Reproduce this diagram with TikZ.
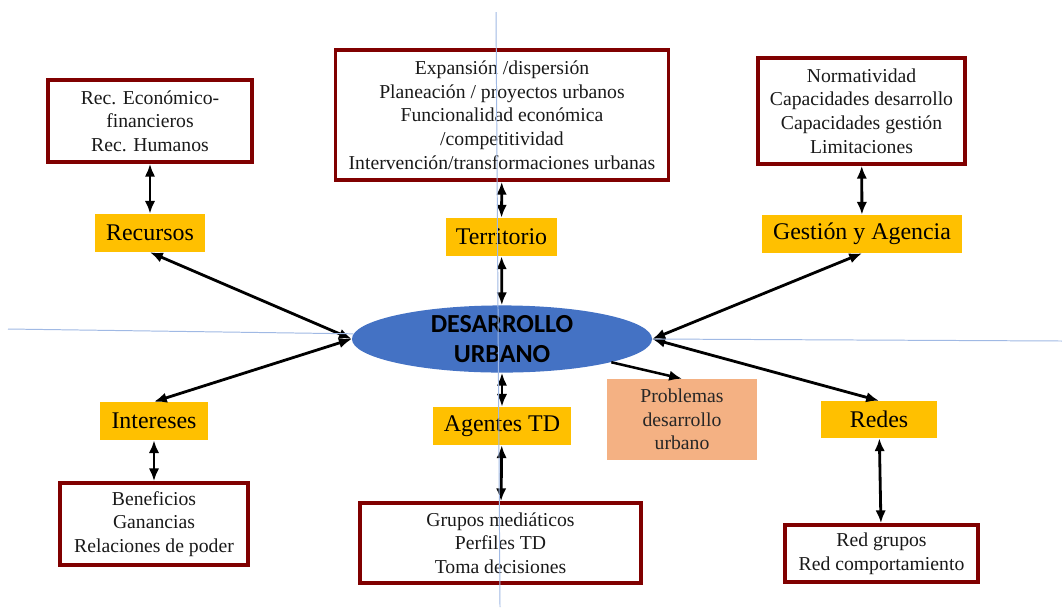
\documentclass[tikz,border=0pt]{standalone}
\usepackage{fontspec}
\setmainfont{Liberation Serif}
\newfontfamily\hubfont{Carlito}
\usetikzlibrary{arrows.meta,shapes.geometric}
\definecolor{boxred}{RGB}{128,0,0}
\definecolor{tagyellow}{RGB}{255,192,0}
\definecolor{hubblue}{RGB}{68,114,196}
\definecolor{issuepeach}{RGB}{244,177,131}
\definecolor{guideblue}{RGB}{160,185,228}
\tikzset{
    urban map/.style = {x=0.025cm, y=-0.025cm,
                        >={Latex[length=3.2mm, width=2.6mm]}},
    link/.style      = {<->, line width=2pt},
    oneway/.style    = {->, line width=1.8pt},
    block/.style     = {draw=boxred, line width=2.6pt, fill=none, align=center,
                        inner sep=0pt, text=black!90,
                        font=\fontsize{14}{16.8}\selectfont},
    tag/.style       = {fill=tagyellow, inner sep=0pt,
                        minimum height=0.95cm,
                        font=\fontsize{17}{19}\selectfont},
    hub/.style       = {ellipse, fill=hubblue, inner sep=0pt, align=center,
                        minimum width=7.5cm, minimum height=1.675cm,
                        font=\hubfont\bfseries\fontsize{18.5}{21.5}\selectfont},
    issue/.style     = {fill=issuepeach, inner sep=0pt, align=center,
                        text=black!85, font=\fontsize{14}{16.8}\selectfont},
    guide/.style     = {draw=guideblue, line width=0.7pt}
}

\begin{document}
\begin{tikzpicture}[urban map]
\useasboundingbox (0,0) rectangle (1062,607);

% centre
\node[hub] (hub) at (502,339) {DESARROLLO\\URBANO};

% labels
\node[tag, minimum width=2.75cm]  (recursos)   at (150,233)   {Recursos};
\node[tag, minimum width=2.775cm] (territorio) at (501.5,237) {Territorio};
\node[tag, minimum width=5cm]     (gestion)    at (862,234)   {Gestión y Agencia};
\node[tag, minimum width=2.7cm]   (intereses)  at (154,421)   {Intereses};
\node[tag, minimum width=3.45cm]  (agentes)    at (502,426)   {Agentes TD};
\node[tag, minimum width=2.9cm, minimum height=0.925cm]
    (redes) at (879,419.5) {Redes};

% boxes
\node[block, minimum width=5.1cm, minimum height=2.05cm] (recbox)
    at (150,121) {Rec. Económico-\\financieros\\Rec. Humanos};
\node[block, minimum width=8.325cm, minimum height=3.25cm] (terbox)
    at (502,115) {Expansión /dispersión\\Planeación / proyectos urbanos\\
    Funcionalidad económica\\/competitividad\\
    Intervención/transformaciones urbanas};
\node[block, minimum width=5.175cm, minimum height=2.65cm] (gesbox)
    at (861.5,111) {Normatividad\\Capacidades desarrollo\\
    Capacidades gestión\\Limitaciones};
\node[block, minimum width=4.7cm, minimum height=2.05cm] (intbox)
    at (154,524) {Beneficios\\Ganancias\\Relaciones de poder};
\node[block, minimum width=7.025cm, minimum height=2cm] (agebox)
    at (500.5,543) {Grupos mediáticos\\Perfiles TD\\Toma decisiones};
\node[block, minimum width=4.825cm, minimum height=1.425cm] (redbox)
    at (881.5,553.5) {Red grupos\\Red comportamiento};

\node[issue, minimum width=3.75cm, minimum height=2.025cm] (problemas)
    at (682,419.5) {Problemas\\desarrollo\\urbano};

% connectors
\draw[link] (recbox) -- (recursos);
\draw[link] (terbox) -- (territorio);
\draw[link] (gesbox) -- (gestion);
\draw[link] (intbox) -- (intereses);
\draw[link] (agentes) -- (agebox);
\draw[link] (redes) -- (redbox);

\draw[link] (territorio) -- (hub);
\draw[link] (hub) -- (agentes);
\draw[link] (hub.west) -- (recursos.south);
\draw[link] (hub.west) -- (intereses.north);
\draw[link] (hub.east) -- (gestion.south);
\draw[link] (hub.east) -- (redes.north);
\draw[oneway] (hub.-12) -- (problemas.north);

% guide lines
\coordinate (gw) at (8,329);
\coordinate (ge) at (1062,341);
\coordinate (gn) at (496,12);
\coordinate (gs) at (500,607);
\draw[guide] (gw) -- (hub.178);
\draw[guide] (hub.east) -- (ge);
\draw[guide] (gn) -- (gs);

\end{tikzpicture}
\end{document}
